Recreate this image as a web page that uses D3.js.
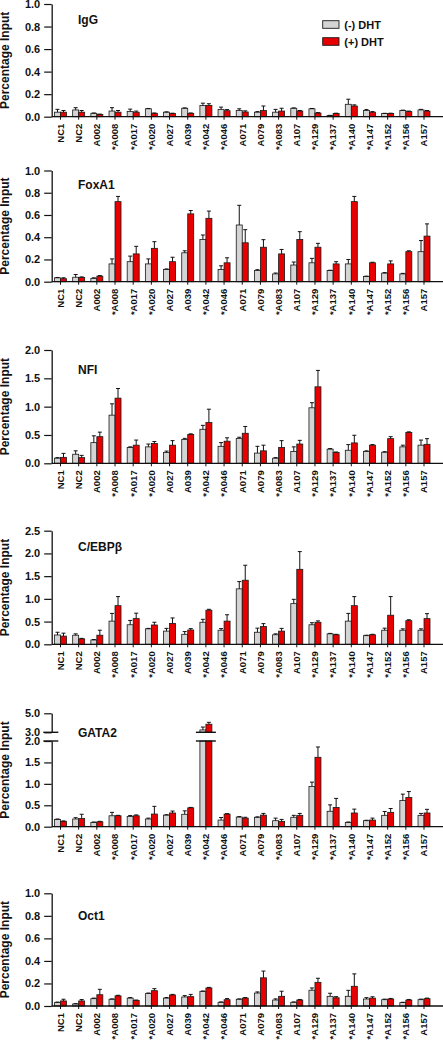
<!DOCTYPE html>
<html><head><meta charset="utf-8">
<script src="https://cdn.jsdelivr.net/npm/d3@7"></script>
<style>
html,body{margin:0;padding:0;background:#fff;}
svg{display:block;}
text{font-family:"Liberation Sans",Arial,sans-serif;font-weight:bold;fill:#111;}
</style>
</head><body>
<svg id="chart" width="443" height="1042"></svg>
<script>
// ---------- data ----------
const categories = ["NC1","NC2","A002","*A008","*A017","*A020","A027","A039","*A042","*A046","A071","A079","*A083","A107","*A129","*A137","*A140","*A147","*A152","*A156","A157"];
const seriesNames = ["(-) DHT","(+) DHT"];
const panelTitles = ["IgG","FoxA1","NFI","C/EBP\u03B2","GATA2","Oct1"];
const yAxisTitle = "Percentage Input";

const iggMinus    = [0.04,0.06,0.03,0.05,0.047,0.07,0.04,0.075,0.10,0.065,0.055,0.04,0.04,0.075,0.07,0.01,0.11,0.055,0.028,0.055,0.06];
const iggMinusErr = [0.025,0.02,0.003,0.03,0.02,0.003,0.003,0.003,0.02,0.02,0.015,0.005,0.025,0.003,0.003,0.002,0.045,0.008,0.002,0.003,0.005];
const iggPlus     = [0.04,0.04,0.02,0.04,0.04,0.03,0.028,0.03,0.10,0.053,0.042,0.055,0.05,0.05,0.033,0.028,0.095,0.04,0.028,0.045,0.05];
const iggPlusErr  = [0.015,0.015,0.003,0.015,0.01,0.003,0.003,0.003,0.015,0.01,0.01,0.04,0.025,0.005,0.003,0.003,0.01,0.005,0.003,0.005,0.005];

const foxMinus    = [0.035,0.04,0.03,0.16,0.18,0.16,0.11,0.26,0.38,0.11,0.51,0.10,0.07,0.15,0.17,0.10,0.16,0.047,0.077,0.07,0.27];
const foxMinusErr = [0.003,0.025,0.005,0.045,0.05,0.045,0.005,0.018,0.04,0.033,0.177,0.008,0.008,0.027,0.04,0.003,0.04,0.003,0.005,0.005,0.10];
const foxPlus     = [0.027,0.038,0.05,0.72,0.25,0.30,0.18,0.61,0.57,0.17,0.35,0.31,0.25,0.38,0.31,0.16,0.72,0.17,0.16,0.27,0.41];
const foxPlusErr  = [0.008,0.005,0.005,0.047,0.068,0.06,0.04,0.03,0.065,0.045,0.118,0.068,0.04,0.07,0.035,0.02,0.047,0.005,0.027,0.008,0.11];

const nfiMinus    = [0.09,0.16,0.365,0.85,0.28,0.29,0.19,0.42,0.60,0.30,0.44,0.18,0.09,0.21,0.98,0.25,0.23,0.21,0.195,0.29,0.32];
const nfiMinusErr = [0.01,0.06,0.12,0.2,0.01,0.05,0.025,0.02,0.07,0.065,0.02,0.12,0.01,0.08,0.09,0.01,0.1,0.01,0.01,0.03,0.09];
const nfiPlus     = [0.105,0.10,0.47,1.15,0.32,0.35,0.32,0.51,0.72,0.39,0.53,0.22,0.28,0.34,1.35,0.19,0.36,0.32,0.435,0.545,0.335];
const nfiPlusErr  = [0.07,0.04,0.08,0.17,0.09,0.035,0.08,0.01,0.235,0.06,0.12,0.1,0.12,0.065,0.29,0.01,0.135,0.01,0.035,0.01,0.1];

const cebpMinus    = [0.205,0.20,0.095,0.51,0.43,0.34,0.29,0.22,0.485,0.31,1.22,0.265,0.21,0.895,0.43,0.23,0.51,0.19,0.31,0.31,0.31];
const cebpMinusErr = [0.06,0.03,0.01,0.17,0.095,0.01,0.06,0.06,0.065,0.035,0.16,0.09,0.02,0.095,0.045,0.01,0.17,0.01,0.045,0.03,0.03];
const cebpPlus     = [0.18,0.12,0.2,0.85,0.565,0.425,0.46,0.315,0.75,0.51,1.41,0.39,0.29,1.65,0.485,0.21,0.85,0.21,0.64,0.52,0.565];
const cebpPlusErr  = [0.065,0.01,0.11,0.2,0.12,0.06,0.12,0.03,0.02,0.14,0.33,0.065,0.06,0.39,0.03,0.01,0.2,0.01,0.41,0.02,0.11];

const gataMinus    = [0.17,0.18,0.10,0.255,0.24,0.18,0.27,0.29,3.25,0.155,0.225,0.22,0.14,0.22,0.94,0.36,0.10,0.14,0.265,0.61,0.265];
const gataMinusErr = [0.01,0.03,0.01,0.08,0.02,0.02,0.01,0.08,0.3,0.06,0.01,0.01,0.06,0.045,0.1,0.15,0.01,0.01,0.09,0.15,0.045];
const gataPlus     = [0.125,0.19,0.115,0.255,0.255,0.295,0.32,0.44,3.85,0.295,0.2,0.27,0.125,0.265,1.62,0.45,0.32,0.155,0.335,0.68,0.32];
const gataPlusErr  = [0.01,0.1,0.01,0.01,0.02,0.18,0.045,0.01,0.2,0.01,0.02,0.04,0.045,0.045,0.24,0.21,0.09,0.045,0.09,0.14,0.085];

const octMinus    = [0.03,0.018,0.065,0.06,0.07,0.11,0.07,0.08,0.13,0.033,0.06,0.115,0.053,0.033,0.14,0.086,0.086,0.062,0.056,0.03,0.056];
const octMinusErr = [0.005,0.003,0.005,0.003,0.005,0.005,0.005,0.012,0.003,0.003,0.003,0.01,0.01,0.003,0.02,0.027,0.053,0.012,0.005,0.003,0.005];
const octPlus     = [0.045,0.045,0.10,0.09,0.05,0.136,0.098,0.083,0.16,0.056,0.07,0.25,0.086,0.053,0.21,0.073,0.175,0.07,0.062,0.053,0.065];
const octPlusErr  = [0.015,0.012,0.048,0.005,0.003,0.018,0.005,0.02,0.005,0.01,0.005,0.06,0.045,0.005,0.036,0.01,0.11,0.012,0.005,0.005,0.005];

const ticksUnit   = [0,0.2,0.4,0.6,0.8,1.0];
const ticksTwo    = [0,0.5,1.0,1.5,2.0];
const ticksTwoHalf= [0,0.5,1.0,1.5,2.0,2.5];
const ticksBrokenLow  = [0,0.5,1.0,1.5,2.0];
const ticksBrokenHigh = [3.0,5.0];

// ---------- layout / style ----------
const COLORS = ["#d4d4d4","#e80000"];
const STROKE = "#1a1a1a";
const AXIS_X = 51.7, X_END = 443;

const panels = [
  {title:panelTitles[0], minus:iggMinus,  minusErr:iggMinusErr,  plus:iggPlus,  plusErr:iggPlusErr,  ticks:ticksUnit,    max:1.0, top:4,     zero:116.7, titleY:23.5},
  {title:panelTitles[1], minus:foxMinus,  minusErr:foxMinusErr,  plus:foxPlus,  plusErr:foxPlusErr,  ticks:ticksUnit,    max:1.0, top:170.5, zero:281.7, titleY:188.5},
  {title:panelTitles[2], minus:nfiMinus,  minusErr:nfiMinusErr,  plus:nfiPlus,  plusErr:nfiPlusErr,  ticks:ticksTwo,     max:2.0, top:350,   zero:463.3, titleY:374},
  {title:panelTitles[3], minus:cebpMinus, minusErr:cebpMinusErr, plus:cebpPlus, plusErr:cebpPlusErr, ticks:ticksTwoHalf, max:2.5, top:530.7, zero:644.3, titleY:550.5},
  {title:panelTitles[4], minus:gataMinus, minusErr:gataMinusErr, plus:gataPlus, plusErr:gataPlusErr, broken:true, top:713.3, hiBreak:732.3, loBreak:741, zero:826.7, titleY:737.3},
  {title:panelTitles[5], minus:octMinus,  minusErr:octMinusErr,  plus:octPlus,  plusErr:octPlusErr,  ticks:ticksUnit,    max:1.0, top:893.3, zero:1006, titleY:920}
];

const svg = d3.select("#chart");
const x = d3.scaleBand().domain(categories).range([51.4, 433.1]).paddingInner(0.34).paddingOuter(0.17);
const xs = d3.scaleBand().domain([0,1]).range([0, x.bandwidth()]);

function styleAxis(ax){
  ax.attr("font-family", null).attr("font-size", null);
  ax.select(".domain").attr("stroke", "#111").attr("stroke-width", 1.3);
  ax.selectAll(".tick line").attr("stroke", "#111").attr("stroke-width", 1.2);
  ax.selectAll(".tick text").style("font-size", "11px").attr("fill", "#111");
}

panels.forEach(p => {
  const g = svg.append("g");
  let yFn, yLow, yHigh;
  if (p.broken) {
    yLow = d3.scaleLinear().domain([0, 2]).range([p.zero, p.loBreak]);
    yHigh = d3.scaleLinear().domain([3, 5]).range([p.hiBreak, p.top]);
    yFn = v => v <= 2 ? yLow(v) : yHigh(v);
    const a1 = g.append("g").attr("transform", `translate(${AXIS_X},0)`)
      .call(d3.axisLeft(yLow).tickValues(ticksBrokenLow).tickFormat(d3.format(".1f")).tickSize(7.5).tickSizeOuter(0).tickPadding(4));
    styleAxis(a1);
    const a2 = g.append("g").attr("transform", `translate(${AXIS_X},0)`)
      .call(d3.axisLeft(yHigh).tickValues(ticksBrokenHigh).tickFormat(d3.format(".1f")).tickSize(7.5).tickSizeOuter(0).tickPadding(4));
    styleAxis(a2);
    // break marks on the axis
    [p.hiBreak, p.loBreak].forEach(yy => {
      g.append("line").attr("x1", AXIS_X - 8.4).attr("x2", AXIS_X + 6.6)
        .attr("y1", yy).attr("y2", yy).attr("stroke", "#111").attr("stroke-width", 1.4);
    });
  } else {
    const y = d3.scaleLinear().domain([0, p.max]).range([p.zero, p.top]);
    yFn = y;
    const a = g.append("g").attr("transform", `translate(${AXIS_X},0)`)
      .call(d3.axisLeft(y).tickValues(p.ticks).tickFormat(d3.format(".1f")).tickSize(7.5).tickSizeOuter(0).tickPadding(4));
    styleAxis(a);
  }

  // bars + errors
  categories.forEach((cat, i) => {
    const vals = [p.minus[i], p.plus[i]];
    const errs = [p.minusErr[i], p.plusErr[i]];
    let brokenGroup = false;
    vals.forEach((v, s) => {
      const bx = x(cat) + xs(s), bw = xs.bandwidth();
      if (p.broken && v > 2) {
        brokenGroup = true;
        g.append("rect").attr("x", bx).attr("y", yLow(2)).attr("width", bw).attr("height", p.zero - yLow(2))
          .attr("fill", COLORS[s]).attr("stroke", STROKE).attr("stroke-width", 0.8);
        g.append("rect").attr("x", bx).attr("y", yHigh(v)).attr("width", bw).attr("height", yHigh(3) - yHigh(v))
          .attr("fill", COLORS[s]).attr("stroke", STROKE).attr("stroke-width", 0.8);
      } else {
        g.append("rect").attr("x", bx).attr("y", yFn(v)).attr("width", bw).attr("height", p.zero - yFn(v))
          .attr("fill", COLORS[s]).attr("stroke", STROKE).attr("stroke-width", 0.8);
      }
      const cx = bx + bw / 2;
      const yt = yFn(v), ye = yFn(v + errs[s]);
      g.append("line").attr("x1", cx).attr("x2", cx).attr("y1", yt).attr("y2", ye).attr("stroke", "#111").attr("stroke-width", 1);
      g.append("line").attr("x1", cx - 2).attr("x2", cx + 2).attr("y1", ye).attr("y2", ye).attr("stroke", "#111").attr("stroke-width", 1);
    });
    if (brokenGroup) {
      [p.hiBreak, p.loBreak].forEach(yy => {
        g.append("line").attr("x1", x(cat) - 4).attr("x2", x(cat) + x.bandwidth() + 4)
          .attr("y1", yy).attr("y2", yy).attr("stroke", "#111").attr("stroke-width", 1.4);
      });
    }
  });

  // x axis
  g.append("line").attr("x1", AXIS_X).attr("x2", X_END).attr("y1", p.zero).attr("y2", p.zero)
    .attr("stroke", "#111").attr("stroke-width", 1.3);
  categories.forEach(cat => {
    const cx = x(cat) + x.bandwidth() / 2;
    g.append("line").attr("x1", cx).attr("x2", cx).attr("y1", p.zero).attr("y2", p.zero + 3)
      .attr("stroke", "#111").attr("stroke-width", 1);
    g.append("text").attr("transform", `translate(${cx},${p.zero + 7}) rotate(-90)`)
      .attr("text-anchor", "end").attr("dy", "0.35em").style("font-size", "9.5px").text(cat);
  });

  // titles
  g.append("text").attr("x", 78).attr("y", p.titleY).style("font-size", "12px").text(p.title);
  g.append("text").attr("transform", `translate(9,${(p.top + p.zero) / 2}) rotate(-90)`)
    .attr("text-anchor", "middle").style("font-size", "12px").text(yAxisTitle);
});

// legend
const lg = svg.append("g");
seriesNames.forEach((name, s) => {
  lg.append("rect").attr("x", 322.7).attr("y", 20.7 + s * 17).attr("width", 16.3).attr("height", 7.6)
    .attr("fill", COLORS[s]).attr("stroke", STROKE).attr("stroke-width", 0.9);
  lg.append("text").attr("x", 344.3).attr("y", 28.5 + s * 17).style("font-size", "11px").text(name);
});
</script>
</body></html>
